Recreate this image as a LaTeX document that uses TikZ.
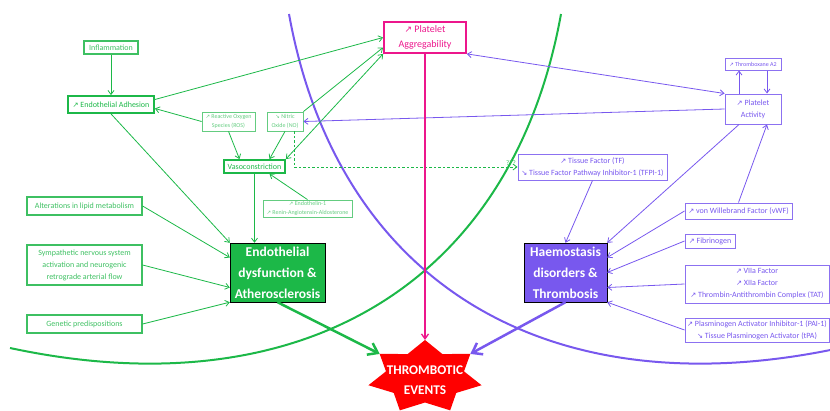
\documentclass[tikz,border=0pt]{standalone}
\usepackage{fontspec}
\setmainfont{Carlito}
\newfontfamily\symfont[Scale=0.9]{DejaVu Sans}
\usetikzlibrary{arrows.meta}

\definecolor{gdark}{RGB}{28,184,72}
\definecolor{gmid}{RGB}{62,192,98}
\definecolor{glite}{RGB}{100,204,128}
\definecolor{vio}{RGB}{120,88,238}
\definecolor{pinky}{RGB}{236,22,140}
\definecolor{evred}{RGB}{255,0,0}

\newcommand{\upar}{{\symfont ↗}}
\newcommand{\dnar}{{\symfont ↘}}
\newcommand{\smallfnt}{\fontsize{6}{9}\selectfont}
\newcommand{\midfnt}{\fontsize{8}{12}\selectfont}
\newcommand{\pafnt}{\fontsize{10}{15}\selectfont}
\newcommand{\bigfnt}{\fontsize{13.5}{21}\selectfont\bfseries}
\newcommand{\starfnt}{\fontsize{13.3}{19.5}\selectfont\bfseries}
\newcommand{\qfnt}{\fontsize{7}{8}\selectfont}

\begin{document}
\begin{tikzpicture}[x=1pt,y=-1pt,
    box/.style={draw,align=center,inner sep=0pt,font=\midfnt},
    gbox/.style={box,draw=gmid,text=gmid,line width=1.2pt},
    gbold/.style={box,draw=gdark,text=gdark,line width=1.8pt},
    gsmall/.style={box,draw=glite,text=glite,line width=0.8pt,font=\smallfnt},
    vbox/.style={box,draw=vio!85,text=vio,line width=1pt},
    pbox/.style={box,draw=pinky,text=pinky,line width=1.8pt,font=\pafnt},
    bigbox/.style={box,text=white,font=\bigfnt},
    garr/.style={draw=gdark,line width=0.8pt,-{Straight Barb[length=4pt,width=6pt]}},
    varr/.style={draw=vio,line width=0.8pt,-{Straight Barb[length=4pt,width=6pt]}},
    fatarr/.style={line width=2.5pt,-{Straight Barb[length=9pt,width=13pt]}}
  ]
  \useasboundingbox (0,0) rectangle (830,410);

  \draw[gdark,line width=2pt] (561,14) .. controls (512,285) and (300,410) .. (10,348);
  \draw[vio,line width=2pt] (289,14) .. controls (338,285) and (550,410) .. (840,348);

  \fill[evred] (425,340) \foreach \k in {0,...,6} { -- ({425+40*cos(90+\k*360/7+180/7)},{377-25.5*sin(90+\k*360/7+180/7)}) -- ({425+58*cos(90+(\k+1)*360/7)},{377-37*sin(90+(\k+1)*360/7)}) } -- cycle;
  \coordinate (evt) at (425,340);
  \coordinate (evl) at (379.7,353.9);
  \coordinate (evr) at (470.3,353.9);
  \node[font=\starfnt,text=white,align=center] (ev) at (425,380) {THROMBOTIC\\EVENTS};

  \node[gbox,minimum width=54pt,minimum height=13pt] (infl) at (111,47.5) {Inflammation};
  \node[gbold,minimum width=86pt,minimum height=17pt] (adh) at (111,104.5) {\upar\ Endothelial Adhesion};
  \node[gsmall,minimum width=53pt,minimum height=19pt] (ros) at (228.5,121.5) {\upar\ Reactive Oxygen\\Species (ROS)};
  \node[gsmall,minimum width=36pt,minimum height=19pt] (no) at (285,121.5) {\dnar\ Nitric\\Oxide (NO)};
  \node[gbold,minimum width=61pt,minimum height=13pt] (vaso) at (254.5,166.5) {Vasoconstriction};
  \node[gsmall,minimum width=89pt,minimum height=17pt] (endo1) at (307.5,208.5) {\upar\ Endothelin-1\\\upar\ Renin-Angiotensin-Aldosterone};
  \node[gbox,minimum width=115pt,minimum height=18pt] (lipid) at (84.5,206) {Alterations in lipid metabolism};
  \node[gbox,minimum width=115pt,minimum height=40pt] (symp) at (84.5,265) {Sympathetic nervous system\\activation and neurogenic\\retrograde arterial flow};
  \node[gbox,minimum width=115pt,minimum height=18pt] (gen) at (84.5,324) {Genetic predispositions};
  \node[bigbox,fill=gdark,minimum width=95pt,minimum height=59pt] (dys) at (277.5,272.5) {Endothelial\\dysfunction \&\\Atherosclerosis};

  \node[pbox,minimum width=82pt,minimum height=31pt] (pa) at (425,37.5) {\upar\ Platelet\\Aggregability};

  \node[vbox,font=\smallfnt,minimum width=56pt,minimum height=12pt] (tx) at (753,64) {\upar\ Thromboxane A2};
  \node[vbox,minimum width=56pt,minimum height=30pt] (pact) at (753,109) {\upar\ Platelet\\Activity};
  \node[vbox,minimum width=149pt,minimum height=26pt] (tf) at (592.5,167) {\upar\ Tissue Factor (TF)\\\dnar\ Tissue Factor Pathway Inhibitor-1 (TFPI-1)};
  \node[vbox,minimum width=107pt,minimum height=16pt] (vwf) at (738.5,211) {\upar\ von Willebrand Factor (vWF)};
  \node[vbox,minimum width=50pt,minimum height=14pt] (fib) at (710,241) {\upar\ Fibrinogen};
  \node[vbox,minimum width=144pt,minimum height=38pt] (fac) at (757,284) {\upar\ VIIa Factor\\\upar\ XIIa Factor\\\upar\ Thrombin-Antithrombin Complex (TAT)};
  \node[vbox,minimum width=144pt,minimum height=24pt] (pai) at (757,330) {\upar\ Plasminogen Activator Inhibitor-1 (PAI-1)\\\dnar\ Tissue Plasminogen Activator (tPA)};
  \node[bigbox,fill=vio,minimum width=83pt,minimum height=59pt] (haem) at (565.5,272.5) {Haemostasis\\disorders \&\\Thrombosis};

  \draw[garr] (infl) -- (adh);
  \draw[garr] ([yshift=5pt]adh.east) -- (pa.west);
  \draw[garr] (ros.west) -- ([yshift=-4pt]adh.east);
  \draw[garr] (ros.south) -- ([xshift=-15pt]vaso.north);
  \draw[garr] (no.south) -- ([xshift=15pt]vaso.north);
  \draw[garr] (no.north east) -- ([yshift=-10pt]pa.west);
  \draw[garr,{Straight Barb[length=4pt,width=6pt]}-{Straight Barb[length=4pt,width=6pt]}] (vaso.north east) -- (pa.south west);
  \draw[garr] (endo1.north) -- ([xshift=15pt]vaso.south);
  \draw[garr] (adh.south) -- (dys.north west);
  \draw[garr] (vaso.south) -- (vaso.south |- dys.north);
  \draw[garr] (lipid.east) -- ([yshift=15pt]dys.west);
  \draw[garr] (symp.east) -- ([yshift=-15pt]dys.west);
  \draw[garr] (gen.east) -- (dys.south west);
  \draw[garr,dash pattern=on 2.5pt off 2pt] ([xshift=9pt]no.south) |- (tf.west);
  \node[anchor=south east,text=gmid,font=\qfnt,inner sep=1.5pt] (qm) at (tf.west) {???};

  \draw[varr,{Straight Barb[length=4pt,width=6pt]}-{Straight Barb[length=4pt,width=6pt]}] (pact.north west) -- (pa.south east);
  \draw[varr] (pact.west) -- (no.east);
  \draw[varr] ([xshift=-14pt]pact.north) -- ([xshift=-14pt]tx.south);
  \draw[varr] ([xshift=14pt]tx.south) -- ([xshift=14pt]pact.north);
  \draw[varr] ([xshift=-14pt]pact.south) -- (haem.north east);
  \draw[varr] (vwf.north) -- ([xshift=14pt]pact.south);
  \draw[varr] (tf.south) -- (haem.north);
  \draw[varr] (vwf.west) -- ([yshift=15pt]haem.east);
  \draw[varr] (fib.west) -- (haem.east);
  \draw[varr] (fac.west) -- ([yshift=-15pt]haem.east);
  \draw[varr] (pai.west) -- (haem.south east);

  \draw[pinky,line width=1.3pt,-{Straight Barb[length=5pt,width=7pt]}] (pa.south) -- (evt);
  \draw[fatarr,gdark] (dys.south) -- (evl);
  \draw[fatarr,vio] (haem.south) -- (evr);
\end{tikzpicture}
\end{document}
